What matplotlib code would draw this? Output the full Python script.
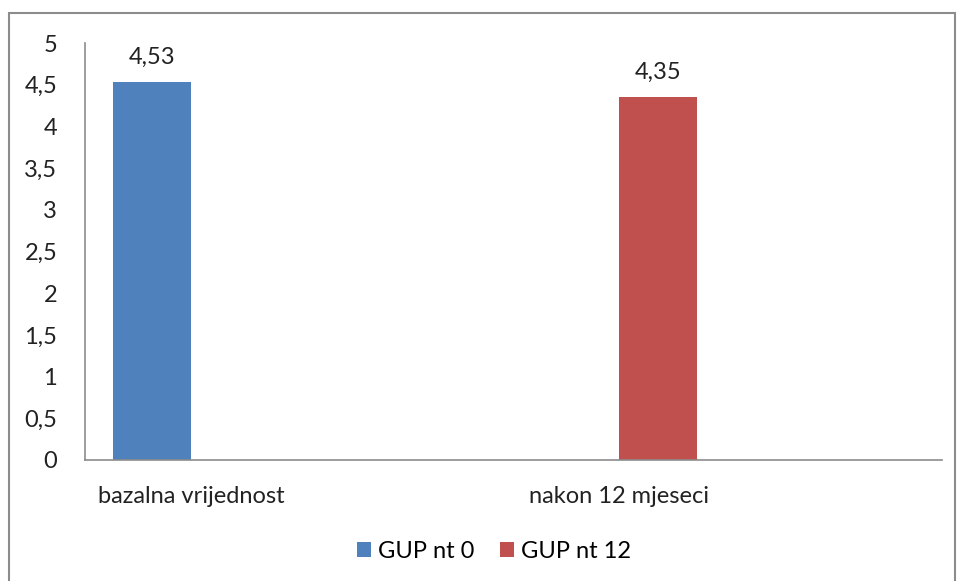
import numpy as np
import matplotlib.pyplot as plt
from matplotlib.patches import Rectangle

categories = ["bazalna vrijednost", "nakon 12 mjeseci"]
series_names = ["GUP nt 0", "GUP nt 12"]
gup_nt0 = [4.53, None]
gup_nt12 = [None, 4.35]
colors = ["#4f81bd", "#c0504d"]
yticks = [0, 0.5, 1, 1.5, 2, 2.5, 3, 3.5, 4, 4.5, 5]

plt.rcParams['font.family'] = ['Lato', 'DejaVu Sans']
fs = 17

W, H = 960, 581
fig = plt.figure(figsize=(W / 100, H / 100), dpi=100)
ax = fig.add_axes([85 / W, (H - 460) / H, (942 - 85) / W, (460 - 43) / H])

# outer chart border
fig.patches.append(Rectangle((9 / W, -0.02), (955 - 9) / W, (H - 13) / H + 0.02,
                             transform=fig.transFigure, fill=False,
                             edgecolor="#8c8c8c", linewidth=1.5))

x = np.arange(len(categories))
bw = 0.182
for k, (vals, name) in enumerate(zip([gup_nt0, gup_nt12], series_names)):
    off = (k - 0.5) * bw
    xs = [x[i] + off for i, v in enumerate(vals) if v is not None]
    hs = [v for v in vals if v is not None]
    bars = ax.bar(xs, hs, bw, color=colors[k], label=name)
    for b, v in zip(bars, hs):
        ax.text(b.get_x() + b.get_width() / 2, v + 0.17, f"{v:.2f}".replace(".", ","),
                ha="center", va="bottom", fontsize=fs, color="#222222")

ax.set_xlim(-0.2477, 1.7547)
ax.set_ylim(0, 5)
ax.set_yticks(yticks)
ax.set_yticklabels([f"{t:g}".replace(".", ",") for t in yticks], fontsize=fs, color="#222222")
ax.set_xticks(x)
ax.set_xticklabels(categories, fontsize=fs, color="#222222")
ax.tick_params(axis="y", length=0, pad=20)
ax.tick_params(axis="x", length=0, pad=19)
for s in ["top", "right"]:
    ax.spines[s].set_visible(False)
for s in ["left", "bottom"]:
    ax.spines[s].set_color("#8c8c8c")
    ax.spines[s].set_linewidth(1.2)

fig.legend(loc="center", bbox_to_anchor=(494 / W, 1 - 551 / H), ncol=2, frameon=False,
           fontsize=fs, handlelength=0.6, handleheight=0.6, handletextpad=0.3,
           columnspacing=1.1)

fig.savefig("out.png", dpi=100)
